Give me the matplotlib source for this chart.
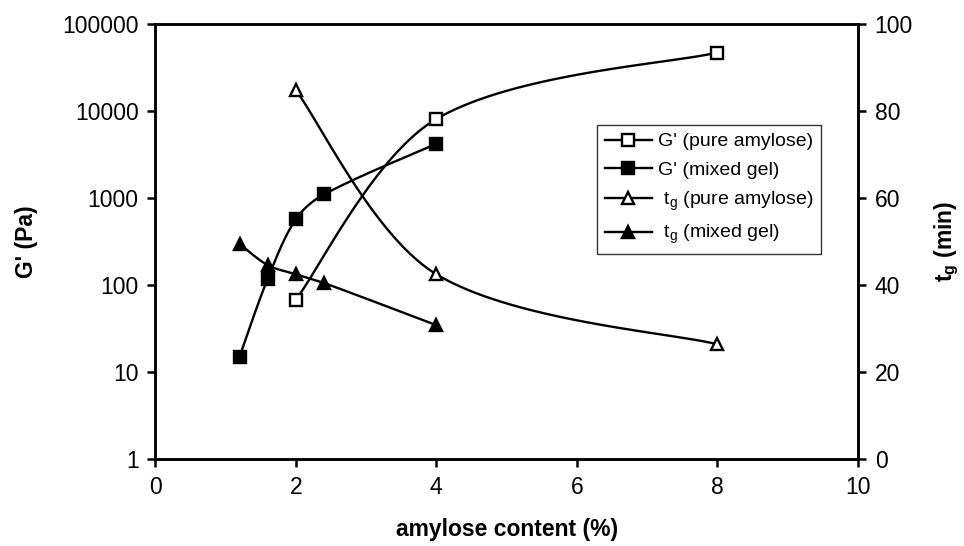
import numpy as np
import matplotlib
matplotlib.use("Agg")
import matplotlib.pyplot as plt
from matplotlib.lines import Line2D

plt.rcParams['font.family'] = ['Liberation Sans', 'DejaVu Sans']
plt.rcParams['mathtext.fontset'] = 'custom'
plt.rcParams['mathtext.rm'] = 'Liberation Sans'
plt.rcParams['mathtext.bf'] = 'Liberation Sans:bold'

# ---- data ----
x_pure = [2, 4, 8]
g_pure = [68, 8100, 47000]
x_mixed = [1.2, 1.6, 2, 2.4, 4]
g_mixed = [15, 118, 570, 1100, 4200]
tg_pure = [84.8, 42.5, 26.4]
tg_mixed = [49.5, 44.6, 42.5, 40.5, 30.8]

x_ticks = [0, 2, 4, 6, 8, 10]
g_ticks = [1, 10, 100, 1000, 10000, 100000]
t_ticks = [0, 20, 40, 60, 80, 100]

labels = ["G' (pure amylose)", "G' (mixed gel)",
          r" $\mathregular{t_g}$ (pure amylose)", r" $\mathregular{t_g}$ (mixed gel)"]


def smooth(xs, ys, sx, sy, n=40):
    """Smooth Bezier curve through points (chord-length tangents in screen-like space)."""
    P = np.column_stack([np.asarray(xs, float) * sx, np.asarray(ys, float) * sy])
    m = len(P)
    d = np.linalg.norm(np.diff(P, axis=0), axis=1)
    tang = []
    for i in range(m):
        if i == 0:
            tang.append((P[1] - P[0]) / (2 * d[0]))
        elif i == m - 1:
            tang.append((P[-1] - P[-2]) / (2 * d[-1]))
        else:
            tang.append((P[i + 1] - P[i - 1]) / (d[i - 1] + d[i]))
    out = [P[0]]
    t = np.linspace(0, 1, n)[1:, None]
    for i in range(m - 1):
        p0, p3 = P[i], P[i + 1]
        c1 = p0 + tang[i] * d[i] / 3.0
        c2 = p3 - tang[i + 1] * d[i] / 3.0
        seg = ((1 - t) ** 3) * p0 + 3 * ((1 - t) ** 2) * t * c1 + 3 * (1 - t) * t ** 2 * c2 + t ** 3 * p3
        out.extend(seg)
    out = np.array(out)
    return out[:, 0] / sx, out[:, 1] / sy


fig = plt.figure(figsize=(9.64, 5.46), dpi=100)
ax = fig.add_axes([0.161, 0.159, 0.729, 0.797])
ax2 = ax.twinx()

lw = 1.7
ms = 9
mew = 1.7

PX_X = 70.3   # px per x unit
PX_LOG = 87.0  # px per decade
PX_T = 4.35   # px per minute

# G' curves on log axis (smooth in log space)
cx, cy = smooth(x_pure, np.log10(g_pure), PX_X, PX_LOG)
ax.plot(cx, 10 ** cy, color='black', lw=lw, zorder=2)
ax.plot(x_pure, g_pure, ls='none', marker='s', ms=ms, mfc='white', mec='black', mew=mew, zorder=3)
cx, cy = smooth(x_mixed, np.log10(g_mixed), PX_X, PX_LOG)
ax.plot(cx, 10 ** cy, color='black', lw=lw, zorder=2)
ax.plot(x_mixed, g_mixed, ls='none', marker='s', ms=ms, mfc='black', mec='black', mew=mew, zorder=3)

# t_g curves on right axis
cx, cy = smooth(x_pure, tg_pure, PX_X, PX_T)
ax2.plot(cx, cy, color='black', lw=lw, zorder=2)
ax2.plot(x_pure, tg_pure, ls='none', marker='^', ms=ms, mfc='white', mec='black', mew=mew, zorder=3)
cx, cy = smooth(x_mixed, tg_mixed, PX_X, PX_T)
ax2.plot(cx, cy, color='black', lw=lw, zorder=2)
ax2.plot(x_mixed, tg_mixed, ls='none', marker='^', ms=ms, mfc='black', mec='black', mew=mew, zorder=3)

ax.set_yscale('log')
ax.set_ylim(1, 100000)
ax.set_xlim(0, 10)
ax2.set_ylim(0, 100)
ax.set_xticks(x_ticks)
ax.set_yticks(g_ticks)
ax.set_yticklabels([str(v) for v in g_ticks])
ax.yaxis.set_minor_locator(matplotlib.ticker.NullLocator())
ax2.set_yticks(t_ticks)

for a in (ax, ax2):
    for s in a.spines.values():
        s.set_linewidth(1.8)
    a.tick_params(direction='out', width=1.8, length=6, labelsize=16.5, pad=6)

ax.set_xlabel('amylose content (%)', fontsize=16.5, fontweight='bold', labelpad=14)
ax.set_ylabel("G' (Pa)", fontsize=16.5, fontweight='bold', labelpad=17)
ax2.set_ylabel(r"$\mathbf{t_g}$ (min)", fontsize=16.5, fontweight='bold', labelpad=14)

handles = [
    Line2D([], [], color='black', lw=lw, marker='s', ms=ms, mfc='white', mec='black', mew=mew),
    Line2D([], [], color='black', lw=lw, marker='s', ms=ms, mfc='black', mec='black', mew=mew),
    Line2D([], [], color='black', lw=lw, marker='^', ms=ms, mfc='white', mec='black', mew=mew),
    Line2D([], [], color='black', lw=lw, marker='^', ms=ms, mfc='black', mec='black', mew=mew),
]
leg = ax2.legend(handles, labels, loc='upper left', bbox_to_anchor=(0.629, 0.768),
                 fontsize=14, frameon=True, fancybox=False, edgecolor='black',
                 handlelength=2.4, handletextpad=0.3, borderpad=0.4, labelspacing=0.55,
                 borderaxespad=0)
leg.get_frame().set_linewidth(1.0)

fig.savefig('out.png', dpi=100)
